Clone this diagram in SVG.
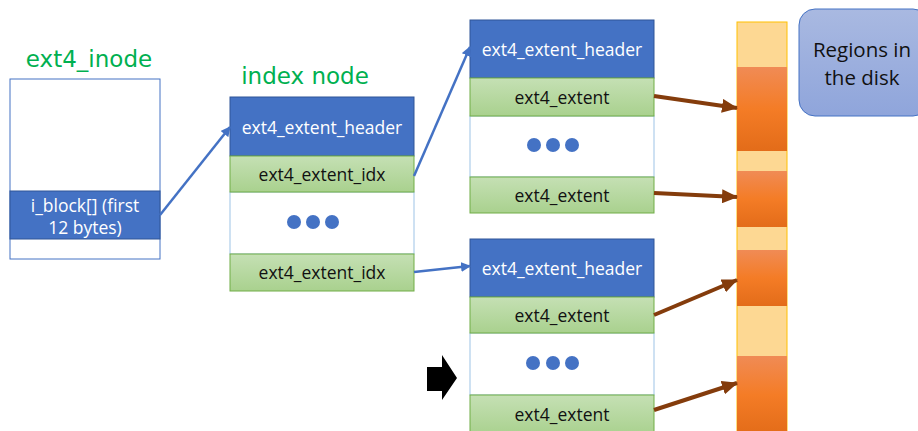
<svg xmlns="http://www.w3.org/2000/svg" width="918" height="431" viewBox="0 0 918 431">
<style>
.t{font-family:"Open Sans","Liberation Sans",sans-serif;font-size:17.5px;text-anchor:middle;dominant-baseline:central}
.w{fill:#ffffff}
.k{fill:#111111}
.lg{font-size:20.5px}
.title{font-family:"DejaVu Sans","Liberation Sans",sans-serif;font-size:23px;fill:#00B050;text-anchor:middle}
.hdr{fill:#4472C4;stroke:#2F5597;stroke-width:1}
.ent{fill:url(#gg);stroke:#70AD47;stroke-width:1}
.emp{fill:#ffffff;stroke:#9DC3E6;stroke-width:1}
.dot{fill:#4472C4}
.blue{stroke:#4472C4;stroke-width:2.5;fill:none}
.brown{stroke:#843C0C;stroke-width:4;fill:none}
.org{fill:url(#og)}
</style>
<defs>
<linearGradient id="gg" x1="0" y1="0" x2="0" y2="1"><stop offset="0" stop-color="#C5E0B4"/><stop offset="1" stop-color="#A9D18E"/></linearGradient>
<linearGradient id="og" x1="0" y1="0" x2="0" y2="1"><stop offset="0" stop-color="#F08B55"/><stop offset="0.5" stop-color="#F47C26"/><stop offset="1" stop-color="#E36C19"/></linearGradient>
<linearGradient id="bg" x1="0" y1="0" x2="0" y2="1"><stop offset="0" stop-color="#A9B9E1"/><stop offset="1" stop-color="#8FA5DB"/></linearGradient>
<marker id="ab" markerWidth="10" markerHeight="10" refX="9" refY="5" orient="auto" markerUnits="userSpaceOnUse"><path d="M0,0 L10,5 L0,10 Z" fill="#4472C4"/></marker>
<marker id="ar" markerWidth="16" markerHeight="14" refX="15" refY="7" orient="auto" markerUnits="userSpaceOnUse"><path d="M0,0 L16,7 L0,14 Z" fill="#843C0C"/></marker>
</defs>

<g id="inode">
<text class="title" x="89" y="67">ext4_inode</text>
<rect x="10" y="79" width="150" height="180" fill="#ffffff" stroke="#4472C4" stroke-width="1"/>
<rect class="hdr" x="10" y="191" width="150" height="48"/>
<text class="t w" x="85" y="205">i_block[] (first</text>
<text class="t w" x="85" y="227">12 bytes)</text>
</g>

<g id="index-node">
<text class="title" x="305" y="84">index node</text>
<rect class="emp" x="230" y="192" width="184" height="62"/>
<rect class="hdr" x="230" y="97" width="184" height="59"/>
<text class="t w" x="322" y="127">ext4_extent_header</text>
<rect class="ent" x="230" y="156" width="184" height="36"/>
<text class="t k" x="322" y="174">ext4_extent_idx</text>
<circle class="dot" cx="294" cy="222" r="7"/><circle class="dot" cx="313" cy="222" r="7"/><circle class="dot" cx="332" cy="222" r="7"/>
<rect class="ent" x="230" y="254" width="184" height="37"/>
<text class="t k" x="322" y="272">ext4_extent_idx</text>
</g>

<g id="leaf-top">
<rect class="emp" x="470" y="116" width="184" height="61"/>
<rect class="hdr" x="470" y="20" width="184" height="58"/>
<text class="t w" x="562" y="49">ext4_extent_header</text>
<rect class="ent" x="470" y="78" width="184" height="38"/>
<text class="t k" x="562" y="97">ext4_extent</text>
<circle class="dot" cx="534" cy="145" r="7"/><circle class="dot" cx="553" cy="145" r="7"/><circle class="dot" cx="572" cy="145" r="7"/>
<rect class="ent" x="470" y="177" width="184" height="36"/>
<text class="t k" x="562" y="195">ext4_extent</text>
</g>

<g id="leaf-bottom">
<rect class="emp" x="470" y="333" width="184" height="62"/>
<rect class="hdr" x="470" y="239" width="184" height="58"/>
<text class="t w" x="562" y="268">ext4_extent_header</text>
<rect class="ent" x="470" y="297" width="184" height="36"/>
<text class="t k" x="562" y="315">ext4_extent</text>
<circle class="dot" cx="533" cy="363" r="7"/><circle class="dot" cx="553" cy="363" r="7"/><circle class="dot" cx="572" cy="363" r="7"/>
<rect class="ent" x="470" y="395" width="184" height="40"/>
<text class="t k" x="562" y="414">ext4_extent</text>
</g>

<g id="pointer">
<path d="M427,367 L442,367 L442,355 L457,378 L442,400 L442,391 L427,391 Z" fill="#000000"/>
</g>

<g id="disk">
<rect x="737" y="22" width="50" height="412" fill="#FDD893" stroke="#FFC000" stroke-width="1"/>
<rect class="org" x="737" y="67" width="50" height="84"/>
<rect class="org" x="737" y="171" width="50" height="56"/>
<rect class="org" x="737" y="250" width="50" height="56"/>
<rect class="org" x="737" y="356" width="50" height="78"/>
</g>

<g id="legend">
<rect x="799" y="9" width="130" height="107" rx="16" fill="url(#bg)" stroke="#4472C4" stroke-width="1"/>
<text class="t k lg" x="862" y="49">Regions in</text>
<text class="t k lg" x="862" y="77">the disk</text>
</g>

<g id="connectors">
<line class="blue" x1="160" y1="215" x2="230" y2="127" marker-end="url(#ab)"/>
<line class="blue" x1="414" y1="176" x2="470" y2="47" marker-end="url(#ab)"/>
<line class="blue" x1="414" y1="272" x2="470" y2="266" marker-end="url(#ab)"/>
<line class="brown" x1="654" y1="96" x2="737" y2="108" marker-end="url(#ar)"/>
<line class="brown" x1="654" y1="193" x2="737" y2="197" marker-end="url(#ar)"/>
<line class="brown" x1="654" y1="315" x2="737" y2="280" marker-end="url(#ar)"/>
<line class="brown" x1="654" y1="410" x2="737" y2="383" marker-end="url(#ar)"/>
</g>
</svg>
